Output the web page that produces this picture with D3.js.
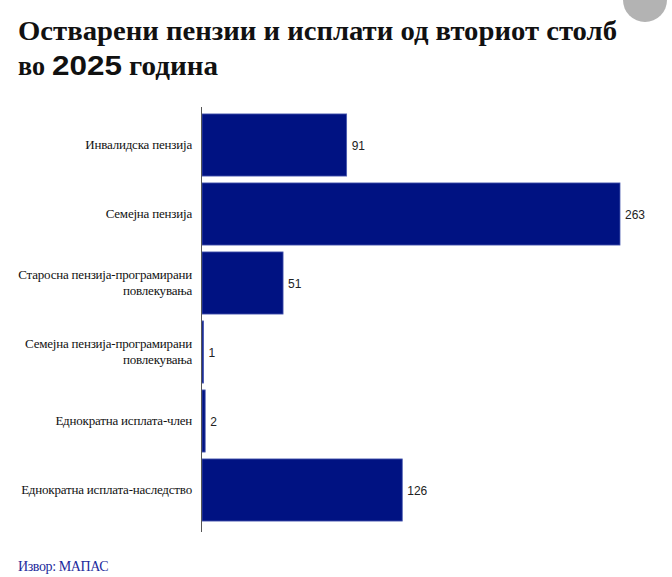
<!DOCTYPE html>
<html>
<head>
<meta charset="utf-8">
<script src="https://cdn.jsdelivr.net/npm/d3@7"></script>
<style>
  body { margin: 0; background: #fff; }
  svg { display: block; }
</style>
</head>
<body>
<div id="chart"></div>
<script>
// data
var categories = [
    ["Инвалидска пензија"],
    ["Семејна пензија"],
    ["Старосна пензија-програмирани", "повлекувања"],
    ["Семејна пензија-програмирани", "повлекувања"],
    ["Еднократна исплата-член"],
    ["Еднократна исплата-наследство"]
];
var values = [91, 263, 51, 1, 2, 126];

var width = 672, height = 577;
var svg = d3.select("#chart").append("svg")
    .attr("width", width)
    .attr("height", height);

// grey dot top right
svg.append("circle")
    .attr("cx", 645).attr("cy", 0).attr("r", 22)
    .attr("fill", "#b3b3b3");

// title
var title = svg.append("g").attr("font-family", "'Liberation Serif', serif")
    .attr("font-weight", "bold").attr("font-size", 28).attr("fill", "#111");
title.append("text").attr("x", 18).attr("y", 40)
    .attr("textLength", 599).attr("lengthAdjust", "spacingAndGlyphs")
    .text("Остварени пензии и исплати од вториот столб");
title.append("text").attr("x", 18).attr("y", 75)
    .attr("textLength", 27).attr("lengthAdjust", "spacingAndGlyphs")
    .text("во");
title.append("text").attr("x", 52).attr("y", 75)
    .attr("font-family", "'Liberation Sans', Arial, sans-serif")
    .attr("font-size", 27)
    .attr("textLength", 70).attr("lengthAdjust", "spacingAndGlyphs")
    .text("2025");
title.append("text").attr("x", 129).attr("y", 75)
    .attr("textLength", 89).attr("lengthAdjust", "spacingAndGlyphs")
    .text("година");

var margin = {top: 107, left: 202, bottom: 532};

var x = d3.scaleLinear()
    .domain([0, 263])
    .range([margin.left, 620]);

var y = d3.scaleBand()
    .domain(d3.range(values.length))
    .range([110.5, 524.5])
    .paddingInner(0.1)
    .paddingOuter(0.05);

svg.append("g").selectAll("rect")
    .data(values)
    .join("rect")
    .attr("x", x(0))
    .attr("y", function(d, i) { return y(i); })
    .attr("width", function(d) { return x(d) - x(0); })
    .attr("height", y.bandwidth())
    .attr("fill", "#001282")
    .attr("stroke", "#4a5ab0")
    .attr("stroke-width", 0.8);

// axis line
svg.append("line")
    .attr("x1", margin.left - 0.5).attr("x2", margin.left - 0.5)
    .attr("y1", margin.top).attr("y2", margin.bottom)
    .attr("stroke", "#555").attr("stroke-width", 1);

// category labels
var labels = svg.append("g")
    .attr("font-family", "'Liberation Serif', 'Times New Roman', serif")
    .attr("font-size", 13)
    .attr("letter-spacing", -0.2)
    .attr("fill", "#111")
    .attr("text-anchor", "end");

labels.selectAll("text")
    .data(categories)
    .join("text")
    .attr("x", 192)
    .attr("y", function(d, i) {
        var c = y(i) + y.bandwidth() / 2;
        return c - (d.length - 1) * 8 + 4;
    })
    .each(function(d) {
        var t = d3.select(this);
        d.forEach(function(line, k) {
            t.append("tspan").attr("x", 192).attr("dy", k === 0 ? 0 : 16).text(line);
        });
    });

// value labels
svg.append("g")
    .attr("font-family", "'Liberation Sans', Arial, sans-serif")
    .attr("font-size", 12)
    .attr("fill", "#222")
    .selectAll("text")
    .data(values)
    .join("text")
    .attr("x", function(d) { return x(d) + 5; })
    .attr("y", function(d, i) { return y(i) + y.bandwidth() / 2 + 4.5; })
    .text(function(d) { return d; });

// source
svg.append("text")
    .attr("x", 18).attr("y", 571)
    .attr("font-family", "'Liberation Serif', serif")
    .attr("font-size", 14)
    .attr("letter-spacing", -0.4)
    .attr("fill", "#1c2a9c")
    .text("Извор: МАПАС");
</script>
</body>
</html>
